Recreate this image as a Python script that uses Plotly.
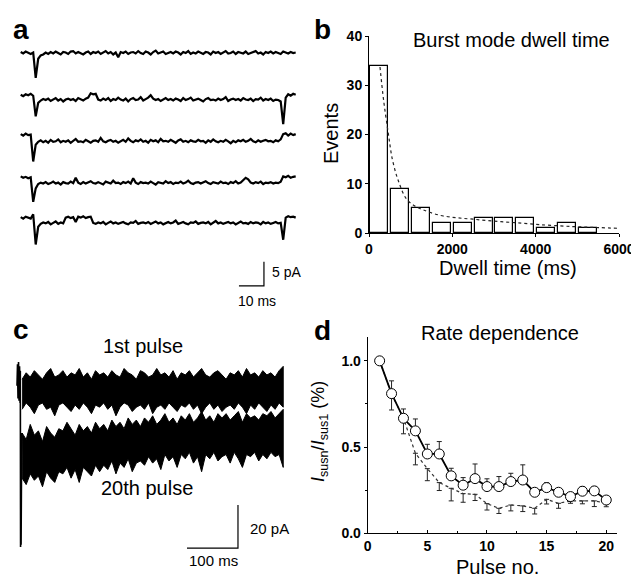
import plotly.graph_objects as go

W, H = 639, 579
OFF = 8  # page body margin of the html page, in pixels
FONT = "Liberation Sans"

# ---------------- data ----------------
# Panel b: burst mode dwell-time histogram (ms, events)
b_bin_centers = [250, 750, 1250, 1750, 2250, 2750, 3250, 3750, 4250, 4750, 5250]
b_events = [34, 9, 5, 2, 2, 3, 3, 3, 1, 2, 1]
b_fit_x = [264, 350, 464, 560, 700, 900, 1100, 1300, 1700, 2100, 2500, 3000, 3500, 4100, 4900, 5500, 6000]
b_fit_y = [33.7, 27, 20.2, 15, 10.7, 6.9, 5.5, 4.7, 3.6, 3.1, 2.8, 2.4, 2.1, 1.7, 1.3, 1.1, 0.95]

# Panel d: rate dependence
d_pulse = list(range(1, 21))
d_circ_y = [1.0, 0.81, 0.667, 0.594, 0.46, 0.46, 0.333, 0.279, 0.317, 0.271,
            0.271, 0.30, 0.309, 0.238, 0.265, 0.238, 0.213, 0.244, 0.246, 0.193]
d_circ_err = [0, 0.074, 0.054, 0.069, 0.056, 0.072, 0.044, 0.044, 0.085, 0.045,
              0.058, 0.048, 0.088, 0.01, 0.029, 0.01, 0.01, 0.027, 0.025, 0.01]
d_dot_y = [1.0, 0.81, 0.667, 0.464, 0.375, 0.294, 0.261, 0.23, 0.226, 0.172,
           0.145, 0.164, 0.159, 0.145, 0.197, 0.174, 0.188, 0.188, 0.188, 0.174]
d_dot_err = [0, 0.095, 0.09, 0.067, 0.07, 0.046, 0.073, 0.05, 0.036, 0.037,
             0.03, 0.034, 0.033, 0.033, 0.027, 0.029, 0.014, 0.017, 0.033, 0.02]

# Panel a: single-channel sweeps (pA, sampled every 1 ms)
a_dt_ms = 1.0
a_row1 = [0.2,-0.1,0.3,0.0,-0.2,0.1,-5.2,-1.2,-0.5,-0.3,
          0.1,-0.2,0.2,-0.1,0.3,0.0,-0.3,0.2,0.1,-0.2,
          0.3,0.4,-0.1,0.2,0.0,-0.3,0.1,0.3,-0.2,0.2,
          0.0,0.3,-0.2,0.1,0.4,-0.1,0.2,-0.3,0.1,-0.9,
          0.2,0.0,0.3,-0.2,0.1,0.2,-0.1,0.4,0.0,-0.2,
          0.3,0.1,-0.3,0.2,0.5,-0.1,0.1,0.3,-0.2,0.0,
          0.2,-0.1,0.3,0.1,-0.3,0.2,0.0,0.4,-0.2,0.1,
          -0.1,0.3,0.0,-0.2,0.2,0.1,-0.3,0.3,0.0,0.2,
          -0.2,0.1,0.4,-0.1,0.0,0.3,-0.2,0.2,0.1,-0.1,
          0.3,-0.2,0.0,0.2,0.4,-0.1,0.1,-0.3,0.2,0.0,
          0.3,-0.1,0.2,0.0,-0.2,0.3,0.1,-0.1,0.2,0.0,0.1]
a_row2 = [0.1,-0.2,0.2,0.0,0.3,-0.1,-4.4,-1.6,-1.1,-0.8,
          -1.0,-0.7,-1.2,-0.9,-0.6,-1.1,-0.8,-1.3,-0.9,-0.7,
          -1.0,-0.8,-1.2,-0.6,-0.9,-1.1,-0.7,-0.5,0.4,0.2,
          0.3,-0.9,-1.1,-0.7,-1.0,-0.6,-1.2,-0.8,-1.0,-0.5,
          -0.9,-1.1,-0.7,-1.3,-0.8,-0.6,-1.0,-0.9,-0.4,-1.1,
          -0.8,-0.5,0.0,-0.7,-1.0,-0.8,-1.2,-0.9,-0.6,-1.0,
          -0.8,-1.1,-0.7,-0.9,-1.2,-0.6,-1.0,-0.8,-0.5,-1.1,
          -0.9,-0.7,-1.0,-1.3,-0.8,-0.6,-1.0,-0.9,-1.1,-0.7,
          -1.0,-0.8,-0.4,-1.2,-0.9,-0.7,-1.0,-0.8,-1.1,-0.6,
          -0.9,-1.0,-0.7,-1.2,-0.8,-0.9,-0.5,-1.1,-0.8,-1.0,
          -0.7,-1.2,-0.9,-1.0,-1.3,-6.0,-0.5,0.2,-0.1,0.3,0.1]
a_row3 = [0.2,-0.1,0.3,0.0,0.1,-5.5,-2.0,-1.4,-1.1,-1.5,
          -1.2,-1.6,-1.0,-1.4,-1.3,-0.9,-1.5,-1.2,-1.4,-1.1,
          -1.6,-1.2,-0.8,-1.4,-1.3,-1.5,-1.0,-1.3,-1.6,-1.2,
          -1.1,-1.4,-0.6,-1.3,-1.5,-1.2,-1.0,-1.4,-1.2,-1.6,
          -1.3,-1.0,-1.4,-0.7,-1.2,-1.5,-1.1,-1.3,-0.9,-1.4,
          -1.2,-1.6,-1.0,-1.3,-1.1,-1.5,-0.8,-1.3,-1.2,-1.4,
          -1.0,-1.3,-1.6,-1.1,-0.9,-1.4,-1.2,-1.5,-1.1,-1.3,
          -1.4,-1.0,-1.3,-1.2,-1.6,-1.1,-1.4,-0.9,-1.3,-1.5,
          -1.2,-1.4,-1.0,-1.3,-1.7,-1.2,-1.5,-1.1,-1.3,-1.0,
          -1.4,-1.2,-0.8,-1.3,-1.5,-1.1,-1.4,-1.2,-1.0,-1.3,
          -1.2,-1.5,-1.1,-1.3,-0.9,0.2,0.4,-0.1,0.3,0.0,0.2]
a_row4 = [0.3,0.0,0.2,-0.1,0.1,-5.0,-2.2,-1.3,-1.0,-1.2,
          -0.9,-1.3,-1.1,-0.8,-1.2,-1.0,-1.4,-0.9,-1.1,-1.2,
          -0.8,-1.1,0.0,-1.0,-1.3,-0.9,-1.2,-1.0,-0.7,-1.1,
          -1.2,-0.9,-1.1,-1.4,-0.8,-1.0,-1.2,-0.6,-1.1,-1.0,
          -1.3,-0.9,-1.1,-0.8,-1.2,-0.1,-1.0,-1.3,-0.9,-1.1,
          -1.0,-1.2,-0.8,-1.1,-1.4,-0.9,-1.0,-1.2,-0.7,-1.1,
          -0.9,-1.3,-1.0,-1.1,-0.8,-1.2,-1.0,-0.6,-1.1,-1.3,
          -1.0,-0.9,-1.2,-1.0,-0.7,-1.1,-1.3,-0.9,-1.0,-1.2,
          -0.8,-1.1,-1.0,-1.3,-0.9,-1.1,-0.7,-1.2,-1.0,-0.4,
          0.0,-0.3,-1.0,-1.2,-0.9,-1.1,-0.8,-1.3,-1.0,-1.1,
          -0.9,-1.2,-1.0,-1.1,-0.8,0.3,0.1,0.4,0.0,0.2,0.3]
a_row5 = [0.2,-0.1,0.3,0.1,-0.1,0.8,-5.5,-1.8,-1.2,-0.9,
          -1.1,-0.8,-1.3,-1.0,-0.7,-1.2,-0.9,-1.1,0.1,0.3,
          0.0,0.2,-0.8,0.3,0.1,0.4,0.0,0.2,0.3,-1.0,
          -1.2,-0.9,-1.1,-0.8,-1.3,-1.0,-0.7,-1.1,-0.9,-1.2,
          -1.0,-0.8,-1.1,-1.3,-0.9,-1.0,-0.6,-1.2,-1.0,-0.9,
          -1.1,-0.8,-1.2,-1.0,-0.7,-1.1,-0.9,-1.3,-1.0,-0.8,
          -1.1,-0.9,-0.5,-1.2,-1.0,-0.8,-1.1,-1.3,-0.9,-1.0,
          -0.7,-1.2,-1.0,-0.9,-1.1,-0.8,-1.3,-1.0,-0.6,-1.1,
          -0.9,-1.2,-1.0,-0.8,-1.1,-0.9,-1.3,-1.0,-0.7,-1.1,
          -1.0,-1.2,-0.8,-1.1,-0.9,-1.0,-1.3,-0.8,-1.1,-0.9,
          -1.2,-1.0,-0.8,-1.1,-1.0,-4.5,0.1,0.4,0.2,0.3,0.1]
a_rows = [a_row1, a_row2, a_row3, a_row4, a_row5]
a_scale_ms, a_scale_pA = 10, 5

# Panel c: whole-cell currents, envelopes of the noisy band (pA, every 8 ms from 10 ms)
c_t0_ms, c_dt_ms = 10, 8
c_p1_top = [5,8,6,9,7,5,8,10,6,7, 9,6,8,7,10,6,8,5,9,7, 8,6,9,7,6,10,8,7,5,9,
            8,6,7,10,7,8,6,9,5,8, 7,9,6,8,10,7,6,8,9,7, 5,8,7,9,6,10,7,8,6,9, 7,8,6,9,11]
c_p1_bot = [-9,-6,-8,-11,-7,-6,-9,-8,-12,-7, -6,-8,-10,-7,-9,-6,-8,-11,-7,-8,
            -6,-9,-7,-12,-8,-6,-7,-10,-8,-7, -9,-6,-11,-8,-7,-9,-6,-8,-10,-7,
            -8,-6,-9,-7,-11,-8,-6,-9,-7,-10, -8,-7,-9,-6,-8,-11,-7,-9,-6,-8, -10,-7,-9,-6,-8]
c_p20_top = [-20,-23,-16,-21,-19,-24,-17,-20,-22,-18, -19,-15,-18,-21,-16,-19,-17,-20,-15,-18,
             -16,-19,-14,-17,-15,-18,-13,-16,-14,-17, -13,-15,-12,-16,-14,-11,-15,-13,-16,-12,
             -14,-11,-15,-13,-10,-14,-12,-15,-11,-13, -11,-14,-12,-10,-15,-11,-13,-12,-14,-11,
             -12,-10,-13,-11,-9]
c_p20_bot = [-41,-44,-39,-42,-40,-45,-38,-41,-43,-38, -39,-36,-41,-37,-43,-36,-38,-40,-35,-38,
             -35,-37,-33,-39,-34,-36,-32,-38,-34,-33, -35,-31,-34,-32,-37,-30,-33,-31,-36,-30,
             -32,-29,-34,-31,-38,-30,-32,-29,-33,-31, -30,-34,-29,-32,-36,-30,-31,-29,-33,-30,
             -32,-29,-31,-30,-36]
c_onset_t = [0, 1, 2, 3, 4, 5, 6, 6.5, 7, 7.5, 8, 9, 10]
c_onset_pA = [2, 12, -4, 13, -5, 11, -6, 9, -73, -20, -72, -30, -20]
c_scale_ms, c_scale_pA = 100, 20

# ---------------- layout helpers (reference pixel -> paper) ----------------
def px(x):
    return (x - OFF) / W

def py(y):
    return 1 - (y - OFF) / H

fig = go.Figure()

# ---- panel b ----
fig.add_trace(go.Bar(x=b_bin_centers, y=b_events, width=430,
                     marker=dict(color="white", line=dict(color="black", width=1.2)),
                     xaxis="x", yaxis="y"))
fig.add_trace(go.Scatter(x=b_fit_x, y=b_fit_y, mode="lines",
                         line=dict(color="#222", width=1.2, dash="dot", shape="spline"),
                         xaxis="x", yaxis="y"))

# ---- panel d ----
fig.add_trace(go.Scatter(x=d_pulse, y=d_dot_y, mode="lines",
                         line=dict(color="#333", width=1.2, dash="dot"),
                         error_y=dict(type="data", symmetric=False, array=[0]*len(d_dot_err),
                                      arrayminus=d_dot_err, width=2.5, thickness=1, color="#222"),
                         xaxis="x2", yaxis="y2"))
fig.add_trace(go.Scatter(x=d_pulse, y=d_circ_y, mode="lines+markers",
                         line=dict(color="black", width=1.8),
                         marker=dict(symbol="circle", size=10, color="white",
                                     line=dict(color="black", width=1)),
                         error_y=dict(type="data", symmetric=False, array=d_circ_err,
                                      arrayminus=[0]*len(d_circ_err), width=2.5, thickness=1, color="#222"),
                         xaxis="x2", yaxis="y2"))

# ---- panel a ----
a_offsets = [0, -8.8, -17.1, -26.0, -34.4]
for row, off in zip(a_rows, a_offsets):
    t = [i * a_dt_ms for i in range(len(row))]
    fig.add_trace(go.Scatter(x=t, y=[v + off for v in row], mode="lines",
                             line=dict(color="black", width=2.2),
                             xaxis="x3", yaxis="y3"))
a_corner = (97.3, -48.5)
fig.add_trace(go.Scatter(x=[a_corner[0] - a_scale_ms, a_corner[0], a_corner[0]],
                         y=[a_corner[1], a_corner[1], a_corner[1] + a_scale_pA],
                         mode="lines", line=dict(color="black", width=1.2),
                         xaxis="x3", yaxis="y3"))

# ---- panel c ----
c_t = [c_t0_ms + c_dt_ms * i for i in range(len(c_p1_top))]
for top, bot in [(c_p1_top, c_p1_bot), (c_p20_top, c_p20_bot)]:
    fig.add_trace(go.Scatter(x=c_t + c_t[::-1], y=top + bot[::-1], mode="lines",
                             fill="toself", fillcolor="black",
                             line=dict(color="black", width=1),
                             xaxis="x4", yaxis="y4"))
fig.add_trace(go.Scatter(x=c_onset_t, y=c_onset_pA, mode="lines",
                         line=dict(color="black", width=1.6),
                         xaxis="x4", yaxis="y4"))
c_corner = (433.3, -73.5)
fig.add_trace(go.Scatter(x=[c_corner[0] - c_scale_ms, c_corner[0], c_corner[0]],
                         y=[c_corner[1], c_corner[1], c_corner[1] + c_scale_pA],
                         mode="lines", line=dict(color="black", width=1.2),
                         xaxis="x4", yaxis="y4"))

# trace-panel scaling (reference pixels): panel a 2.5 px/ms from x=20.7, 4.8 px/pA with 0 at y=53
#                                          panel c 0.51 px/ms from x=17, 2.15 px/pA with 0 at y=390
def lin_range(p0, p1, origin_px, px_per_unit, invert=False):
    if invert:
        return [(origin_px - p1) / px_per_unit, (origin_px - p0) / px_per_unit]
    return [(p0 - origin_px) / px_per_unit, (p1 - origin_px) / px_per_unit]

A_X = (OFF, 320); A_Y = (OFF, 310)
C_X = (OFF, 320); C_Y = (310, H + OFF)

tickfont = dict(family=FONT, size=14, color="black", weight="bold")
axis_common = dict(showline=True, linecolor="black", linewidth=1, showgrid=False,
                   zeroline=False, ticklen=3, tickcolor="black",
                   tickfont=tickfont, mirror=False, automargin=False)
hidden = dict(visible=False, automargin=False, showgrid=False, zeroline=False)

fig.update_layout(
    width=W, height=H, autosize=False,
    margin=dict(l=0, r=0, t=0, b=0, pad=0, autoexpand=False),
    paper_bgcolor="white", plot_bgcolor="white", showlegend=False,
    bargap=0,
    xaxis=dict(domain=[px(369), px(619)], range=[0, 6000], anchor="y", ticks="outside",
               tickvals=[0, 2000, 4000, 6000], **axis_common),
    yaxis=dict(domain=[py(233), py(36)], range=[0, 40], anchor="x", ticks="outside",
               tickvals=[0, 10, 20, 30, 40], **axis_common),
    xaxis2=dict(domain=[px(367.7), px(617)], range=[0, 20.9], anchor="y2", ticks="inside",
                tickvals=[0, 5, 10, 15, 20],
                minor=dict(tickvals=[2.5, 7.5, 12.5, 17.5], ticklen=2, ticks="inside"),
                **axis_common),
    yaxis2=dict(domain=[py(533.3), py(336.7)], range=[0, 1.14], anchor="x2", ticks="outside",
                tickvals=[0, 0.5, 1.0], ticktext=["0.0", "0.5", "1.0"],
                minor=dict(tickvals=[0.25, 0.75], ticklen=2, ticks="outside"),
                **axis_common),
    xaxis3=dict(domain=[px(A_X[0]), px(A_X[1])], range=lin_range(*A_X, 20.7, 2.5),
                anchor="y3", **hidden),
    yaxis3=dict(domain=[py(A_Y[1]), py(A_Y[0])], range=lin_range(*A_Y, 53, 4.8, invert=True),
                anchor="x3", **hidden),
    xaxis4=dict(domain=[px(C_X[0]), px(C_X[1])], range=lin_range(*C_X, 17, 0.51),
                anchor="y4", **hidden),
    yaxis4=dict(domain=[max(0, py(C_Y[1])), py(C_Y[0])], range=lin_range(*C_Y, 390, 2.15, invert=True),
                anchor="x4", **hidden),
)

def ann(text, x, y, size, xanchor="center", angle=0, bold=False):
    fig.add_annotation(text=text, x=px(x), y=py(y), xref="paper", yref="paper",
                       xanchor=xanchor, yanchor="middle", showarrow=False,
                       textangle=angle,
                       font=dict(family=FONT, size=size, color="black",
                                 weight="bold" if bold else "normal"))

# panel letters
ann("a", 21, 29, 28, bold=True)
ann("b", 322, 29, 28, bold=True)
ann("c", 21, 329, 28, bold=True)
ann("d", 322, 330, 28, bold=True)
# panel b texts
ann("Burst mode dwell time", 512, 40, 20)
ann("Dwell time (ms)", 508, 268, 20)
ann("Events", 331, 134, 20, angle=-90)
# panel d texts
ann("Rate dependence", 500, 333, 20)
ann("Pulse no.", 497, 567, 20)
ann("<i>I</i><sub>susn</sub>/<i>I</i><sub>sus1</sub> (%)", 319, 432, 18, angle=-90)
# panel a scale texts
ann("5 pA", 270, 272, 14, xanchor="left")
ann("10 ms", 257, 301, 14)
# panel c texts
ann("1st pulse", 143, 346, 20)
ann("20th pulse", 147, 488, 20)
ann("20 pA", 248, 528, 15, xanchor="left")
ann("100 ms", 213, 560, 15)

fig.write_html("out.html")
